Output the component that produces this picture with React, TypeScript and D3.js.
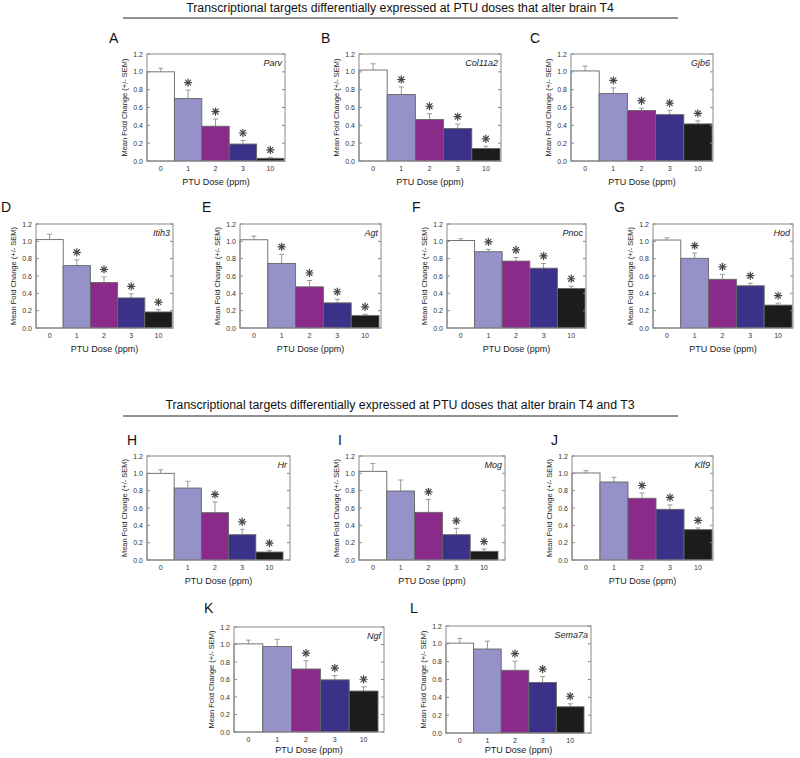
import React from "react";
import * as d3 from "d3";

const doses = ["0", "1", "2", "3", "10"];
const letters = ["A", "B", "C", "D", "E", "F", "G", "H", "I", "J", "K", "L"];
const genes = ["Parv", "Col11a2", "Gjb6", "Itih3", "Agt", "Pnoc", "Hod", "Hr", "Mog", "Klf9", "Ngf", "Sema7a"];
const yTicks = [0, 0.2, 0.4, 0.6, 0.8, 1.0, 1.2];

const meanParv = [1.0, 0.7, 0.39, 0.19, 0.03];
const semParv = [0.04, 0.095, 0.08, 0.04, 0.01];
const meanCol11a2 = [1.02, 0.745, 0.465, 0.364, 0.14];
const semCol11a2 = [0.07, 0.085, 0.065, 0.05, 0.025];
const meanGjb6 = [1.01, 0.757, 0.566, 0.52, 0.416];
const semGjb6 = [0.055, 0.063, 0.025, 0.046, 0.034];
const meanItih3 = [1.02, 0.72, 0.525, 0.347, 0.185];
const semItih3 = [0.062, 0.067, 0.065, 0.047, 0.027];
const meanAgt = [1.018, 0.745, 0.475, 0.29, 0.143];
const semAgt = [0.042, 0.105, 0.073, 0.042, 0.015];
const meanPnoc = [1.01, 0.88, 0.772, 0.69, 0.455];
const semPnoc = [0.02, 0.027, 0.042, 0.055, 0.027];
const meanHod = [1.015, 0.804, 0.562, 0.487, 0.264];
const semHod = [0.025, 0.06, 0.057, 0.03, 0.023];
const meanHr = [1.0, 0.83, 0.546, 0.292, 0.092];
const semHr = [0.04, 0.078, 0.124, 0.062, 0.016];
const meanMog = [1.023, 0.796, 0.55, 0.292, 0.1];
const semMog = [0.092, 0.127, 0.15, 0.073, 0.027];
const meanKlf9 = [1.004, 0.9, 0.712, 0.585, 0.35];
const semKlf9 = [0.026, 0.054, 0.061, 0.05, 0.02];
const meanNgf = [1.007, 0.977, 0.72, 0.596, 0.468];
const semNgf = [0.043, 0.083, 0.095, 0.049, 0.049];
const meanSema7a = [1.008, 0.942, 0.703, 0.567, 0.294];
const semSema7a = [0.052, 0.088, 0.103, 0.066, 0.034];

const sigT4 = [false, true, true, true, true];
const sigT4T3 = [false, false, true, true, true];

const means = [meanParv, meanCol11a2, meanGjb6, meanItih3, meanAgt, meanPnoc, meanHod, meanHr, meanMog, meanKlf9, meanNgf, meanSema7a];
const sems = [semParv, semCol11a2, semGjb6, semItih3, semAgt, semPnoc, semHod, semHr, semMog, semKlf9, semNgf, semSema7a];
const sigs = [sigT4, sigT4, sigT4, sigT4, sigT4, sigT4, sigT4, sigT4T3, sigT4T3, sigT4T3, sigT4T3, sigT4T3];

const titles = [
  "Transcriptional targets differentially expressed at PTU doses that alter brain T4",
  "Transcriptional targets differentially expressed at PTU doses that alter brain T4 and T3",
];

// layout (plot left, top, frame width, height, bar-span width, letter x, letter baseline, x-title offset)
const layout = [
  { x: 147, y: 54, w: 138, h: 107, bw: 137, lx: 109, ly: 43, xt: 24 },
  { x: 359, y: 54, w: 142, h: 107, bw: 141, lx: 321, ly: 43, xt: 24 },
  { x: 571, y: 54, w: 142, h: 107, bw: 141, lx: 530, ly: 43, xt: 24 },
  { x: 36, y: 224, w: 137, h: 104, bw: 136, lx: 1, ly: 212, xt: 24 },
  { x: 240, y: 224, w: 141, h: 104, bw: 139, lx: 202, ly: 212, xt: 24 },
  { x: 447, y: 224, w: 139, h: 104, bw: 138, lx: 412, ly: 212, xt: 24 },
  { x: 653, y: 224, w: 140, h: 104, bw: 139, lx: 614, ly: 212, xt: 24 },
  { x: 147, y: 456, w: 143, h: 104, bw: 136, lx: 127, ly: 445, xt: 24 },
  { x: 359, y: 456, w: 146, h: 104, bw: 139, lx: 338, ly: 445, xt: 24 },
  { x: 572, y: 456, w: 141, h: 104, bw: 140, lx: 551, ly: 445, xt: 24 },
  { x: 234, y: 627, w: 150, h: 105, bw: 144, lx: 204, ly: 613, xt: 21 },
  { x: 446, y: 626, w: 145, h: 107, bw: 138, lx: 410, ly: 613, xt: 20 },
];

const barColors = ["#ffffff", "#9591c9", "#8a2b8a", "#3b3189", "#1c1c1c"];
const FONT = "'Liberation Sans', Arial, sans-serif";

function Asterisk({ cx, cy }: { cx: number; cy: number }) {
  const r = 3.6;
  const angles = [0, 45, 90, 135];
  return (
    <g stroke="#444" strokeWidth={1.2} strokeLinecap="round">
      {angles.map((a) => {
        const t = (a * Math.PI) / 180;
        return (
          <line key={a} x1={cx - r * Math.cos(t)} y1={cy - r * Math.sin(t)} x2={cx + r * Math.cos(t)} y2={cy + r * Math.sin(t)} />
        );
      })}
    </g>
  );
}

function Panel({ i }: { i: number }) {
  const L = layout[i];
  const mean = means[i];
  const sem = sems[i];
  const sig = sigs[i];
  const x = d3.scaleBand<string>().domain(doses).range([L.x, L.x + L.bw]).padding(0);
  const y = d3.scaleLinear().domain([0, 1.2]).range([L.y + L.h, L.y]);
  const bottom = L.y + L.h;
  const right = L.x + L.w;
  return (
    <g fontFamily={FONT}>
      <text x={L.lx} y={L.ly} fontSize={14} fill="#111">{letters[i]}</text>
      {doses.map((d, j) => {
        const bx = x(d)!;
        const top = y(mean[j]);
        const et = y(mean[j] + sem[j]);
        const cx = bx + x.bandwidth() / 2;
        return (
          <g key={d}>
            <line x1={cx} x2={cx} y1={top} y2={et} stroke="#999" strokeWidth={1} />
            <line x1={cx - 2.5} x2={cx + 2.5} y1={et} y2={et} stroke="#999" strokeWidth={1} />
            <rect x={bx} y={top} width={x.bandwidth()} height={bottom - top} fill={barColors[j]} stroke="#666" strokeWidth={0.9} />
            {sig[j] && <Asterisk cx={cx} cy={et - 7.5} />}
            <text x={cx} y={bottom + 10} fontSize={7} textAnchor="middle" fill="#333">{d}</text>
          </g>
        );
      })}
      <rect x={L.x} y={L.y} width={L.w} height={L.h} fill="none" stroke="#8a8a8a" strokeWidth={1} />
      {yTicks.map((t) => (
        <g key={t}>
          <line x1={L.x} x2={L.x + 3} y1={y(t)} y2={y(t)} stroke="#8a8a8a" />
          <line x1={right - 3} x2={right} y1={y(t)} y2={y(t)} stroke="#8a8a8a" />
          <text x={L.x - 4} y={y(t) + 2.5} fontSize={7} textAnchor="end" fill="#333">{d3.format(".1f")(t)}</text>
        </g>
      ))}
      <text x={right - 3} y={L.y + 12} fontSize={9} fontStyle="italic" textAnchor="end" fill="#222">{genes[i]}</text>
      <text x={L.x + L.w / 2} y={bottom + L.xt} fontSize={9} textAnchor="middle" fill="#222">PTU Dose (ppm)</text>
      <text transform={`translate(${L.x - 20},${L.y + L.h / 2}) rotate(-90)`} fontSize={7.5} textAnchor="middle" fill="#222">
        Mean Fold Change (+/- SEM)
      </text>
    </g>
  );
}

export default function App() {
  return (
    <svg width={800} height={758} style={{ position: "absolute", left: 0, top: 0, background: "#fff" }}>
      <rect width={800} height={758} fill="#fff" />
      <text x={400} y={12} fontSize={12.3} textAnchor="middle" fontFamily={FONT} fill="#111">{titles[0]}</text>
      <line x1={123} x2={678} y1={18} y2={18} stroke="#222" strokeWidth={1} />
      <text x={400} y={409} fontSize={12.3} textAnchor="middle" fontFamily={FONT} fill="#111">{titles[1]}</text>
      <line x1={123} x2={678} y1={416} y2={416} stroke="#222" strokeWidth={1} />
      {letters.map((_, i) => (
        <Panel key={i} i={i} />
      ))}
    </svg>
  );
}
